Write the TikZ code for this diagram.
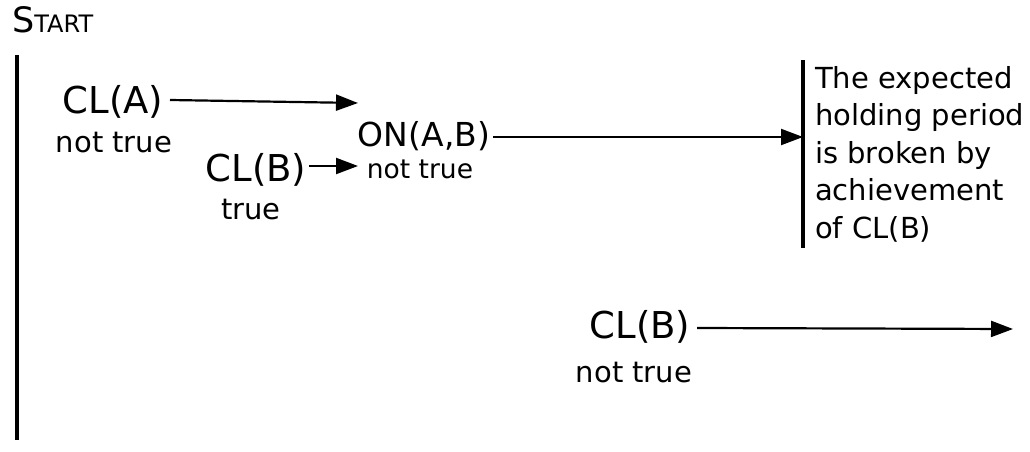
\documentclass[tikz,border=0pt]{standalone}
\usepackage{fontspec}
\setmainfont{DejaVu Sans}
\usetikzlibrary{arrows.meta}
\begin{document}
\begin{tikzpicture}[x=1pt,y=-1pt,
  big/.style={inner sep=0pt, font=\fontsize{37}{42}\selectfont},
  onfont/.style={inner sep=0pt, font=\fontsize{33}{38}\selectfont},
  small/.style={inner sep=0pt, font=\fontsize{29}{33}\selectfont},
  tiny/.style={inner sep=0pt, font=\fontsize{26.5}{30}\selectfont},
  bar/.style={line width=3.6pt},
  arr/.style={line width=2.2pt, -{Triangle[length=22pt,width=16pt]}}]
\useasboundingbox (0,0) rectangle (1030,452);
\node[inner sep=0pt, anchor=base west] (start) at (12,33) {\fontsize{35}{38}\selectfont S\fontsize{24}{28}\selectfont TART};
\coordinate (lt) at (17,55);
\coordinate (lb) at (17,440);
\draw[bar] (lt) -- (lb);
\node[big] (cla) at (113,102) {CL(A)};
\node[small] (clant) at (114,143) {not true};
\node[big] (clb) at (256,170) {CL(B)};
\node[small] (clbt) at (251,210) {true};
\node[onfont] (onab) at (424,136) {ON(A,B)};
\node[tiny] (onabt) at (420,169) {not true};
\coordinate (sa) at (170,100);
\coordinate (ta) at (358,103);
\coordinate (sb) at (309,166);
\coordinate (tb) at (358,166);
\draw[arr] (sa) -- (ta);
\draw[arr] (sb) -- (tb);
\coordinate (rt) at (803,60);
\coordinate (rb) at (803,248);
\draw[bar] (rt) -- (rb);
\coordinate (so) at (493,137);
\coordinate (hit) at (803,137);
\draw[arr] (so) -- (hit);
\node[inner sep=0pt, anchor=north west, align=left, font=\fontsize{29}{37.5}\selectfont] (txt) at (815,66)
  {The expected\\holding period\\is broken by\\achievement\\of CL(B)};
\node[big] (clb2) at (640,327) {CL(B)};
\node[small] (clb2t) at (634,373) {not true};
\coordinate (s2) at (697,328);
\coordinate (end2) at (1013,329);
\draw[arr] (s2) -- (end2);
\end{tikzpicture}
\end{document}
